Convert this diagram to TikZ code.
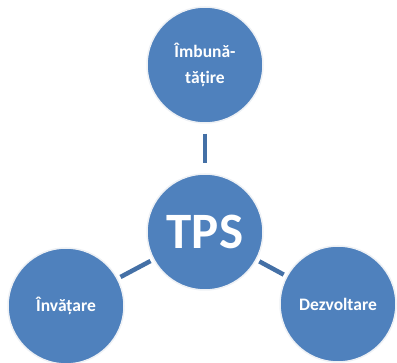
\documentclass[tikz,border=0pt]{standalone}
\usepackage{fontspec}
\setmainfont{Carlito}
\usetikzlibrary{positioning}
\definecolor{tpsBlue}{RGB}{79,129,189}
\definecolor{tpsLine}{RGB}{68,112,166}
\definecolor{tpsHalo}{HTML}{EEF1F5}

\begin{document}
\begin{tikzpicture}[
  x=1pt, y=-1pt,
  hub/.style={circle, fill=tpsBlue, draw=tpsHalo, line width=1.5pt,
              minimum size=116pt, inner sep=0pt, align=center,
              text=white, font=\bfseries},
  link/.style={draw=tpsLine, line width=4.5pt},
]
  \useasboundingbox (0,0) rectangle (397,363);
  \node[hub, font=\bfseries\fontsize{51}{51}\selectfont] (tps) at (205,232) {TPS};
  \node[hub, font=\bfseries\fontsize{17.5}{21}\selectfont] (imb) at (205,65) {Îmbună-\\[5pt]tățire};
  \node[hub, font=\bfseries\fontsize{17.5}{21}\selectfont] (inv) at (66,306) {Învățare};
  \node[hub, font=\bfseries\fontsize{17.5}{21}\selectfont] (dez) at (338,304) {Dezvoltare};
  % connectors
  \draw[link, shorten <=10pt, shorten >=10pt] (imb) -- (tps);
  \draw[link, shorten <=3pt, shorten >=3pt] (inv) -- (tps);
  \draw[link, shorten <=3pt, shorten >=3pt] (dez) -- (tps);
\end{tikzpicture}
\end{document}
